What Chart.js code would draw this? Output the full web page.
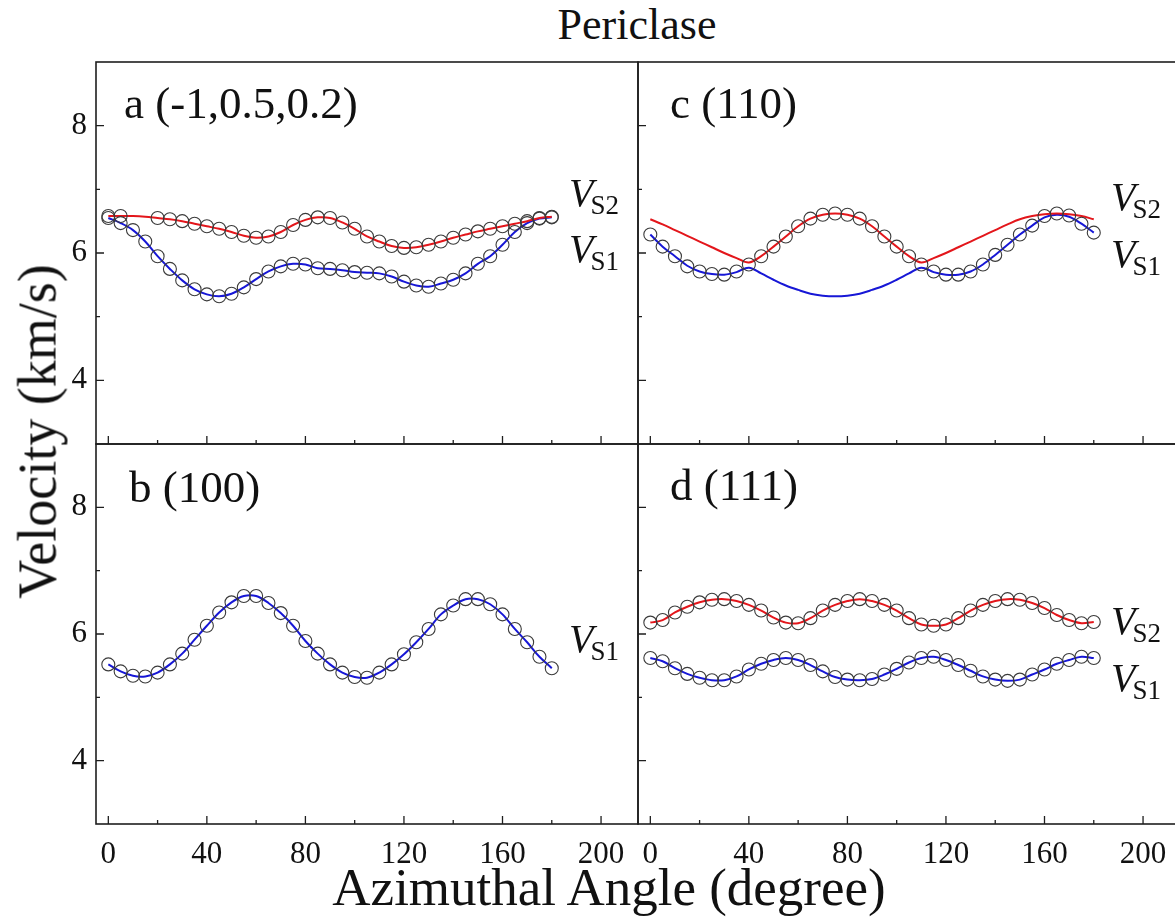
<!DOCTYPE html>
<html>
<head>
<meta charset="utf-8">
<script src="https://cdn.jsdelivr.net/npm/chart.js@4.4.0/dist/chart.umd.min.js"></script>
<style>
  html, body { margin: 0; padding: 0; background: #fff; overflow: hidden; }
  #wrap { position: relative; width: 1175px; height: 919px; overflow: hidden; background: #fff;
          font-family: "Liberation Serif", "Times New Roman", serif; color: #111; }
  canvas { position: absolute; }
  .txt { position: absolute; white-space: nowrap; text-align: center; }
  #title { left: 437px; top: 3px; width: 400px; font-size: 44px; line-height: 44px; }
  #ytitle { left: -212px; top: 404px; width: 500px; height: 55px; font-size: 54px; line-height: 55px;
            transform: rotate(-90deg); }
  #xtitle { left: 259px; top: 861px; width: 700px; font-size: 53px; line-height: 53px; }
</style>
</head>
<body>
<div id="wrap">
  <canvas id="pa" width="642" height="390" style="left:0px;top:58px"></canvas>
  <canvas id="pb" width="642" height="479" style="left:0px;top:440px"></canvas>
  <canvas id="pc" width="550" height="390" style="left:634px;top:58px"></canvas>
  <canvas id="pd" width="550" height="479" style="left:634px;top:440px"></canvas>
  <div class="txt" id="title">Periclase</div>
  <div class="txt" id="ytitle">Velocity (km/s)</div>
  <div class="txt" id="xtitle">Azimuthal Angle (degree)</div>
</div>
<script>
// azimuthal angles (degree)
const angles = [0, 5, 10, 15, 20, 25, 30, 35, 40, 45, 50, 55, 60, 65, 70, 75, 80, 85, 90,
  95, 100, 105, 110, 115, 120, 125, 130, 135, 140, 145, 150, 155, 160, 165, 170, 175, 180];

// a (-1,0.5,0.2)
const aVs2 = [6.58, 6.58, 6.58, 6.57, 6.55, 6.53, 6.50, 6.46, 6.42, 6.38, 6.33, 6.27, 6.24, 6.26, 6.33, 6.44, 6.52, 6.56, 6.55,
  6.48, 6.38, 6.26, 6.18, 6.11, 6.08, 6.09, 6.13, 6.18, 6.24, 6.29, 6.34, 6.38, 6.42, 6.46, 6.50, 6.55, 6.57];
const aVs1 = [6.55, 6.47, 6.36, 6.18, 5.95, 5.75, 5.57, 5.43, 5.35, 5.32, 5.36, 5.46, 5.59, 5.71, 5.79, 5.83, 5.82, 5.76, 5.75,
  5.73, 5.70, 5.69, 5.68, 5.63, 5.55, 5.49, 5.47, 5.52, 5.58, 5.68, 5.83, 5.95, 6.13, 6.33, 6.47, 6.54, 6.56];
const aDots2 = [6.58, 6.58, null, null, 6.55, 6.53, 6.50, 6.46, 6.42, 6.38, 6.33, 6.27, 6.24, 6.26, 6.33, 6.44, 6.52, 6.56, 6.55,
  6.48, 6.38, 6.26, 6.18, 6.11, 6.08, 6.09, 6.13, 6.18, 6.24, 6.29, 6.34, 6.38, 6.42, 6.46, 6.50, 6.55, 6.57];

// b (100)
const bVs1 = [5.52, 5.41, 5.34, 5.33, 5.39, 5.52, 5.69, 5.91, 6.13, 6.34, 6.50, 6.60, 6.60, 6.49, 6.33, 6.13, 5.89, 5.69, 5.52,
  5.39, 5.32, 5.31, 5.39, 5.52, 5.68, 5.87, 6.08, 6.31, 6.45, 6.55, 6.55, 6.47, 6.31, 6.08, 5.87, 5.64, 5.46];

// c (110)
const cVs2 = [6.53, 6.45, 6.36, 6.27, 6.18, 6.09, 6.00, 5.92, 5.85, 5.95, 6.10, 6.26, 6.42, 6.54, 6.60, 6.62, 6.60, 6.54, 6.42,
  6.26, 6.10, 5.95, 5.85, 5.92, 6.00, 6.09, 6.18, 6.27, 6.36, 6.45, 6.53, 6.58, 6.61, 6.62, 6.61, 6.58, 6.53];
const cVs1 = [6.29, 6.10, 5.95, 5.80, 5.71, 5.67, 5.66, 5.70, 5.77, 5.68, 5.58, 5.49, 5.42, 5.36, 5.33, 5.32, 5.33, 5.36, 5.42,
  5.49, 5.58, 5.68, 5.77, 5.70, 5.66, 5.66, 5.71, 5.82, 5.97, 6.13, 6.29, 6.43, 6.56, 6.60, 6.57, 6.46, 6.32];
const cDots = [6.29, 6.10, 5.95, 5.79, 5.71, 5.67, 5.66, 5.71, 5.82, 5.95, 6.10, 6.26, 6.42, 6.54, 6.60, 6.62, 6.60, 6.54, 6.42,
  6.26, 6.10, 5.95, 5.82, 5.71, 5.66, 5.66, 5.71, 5.82, 5.97, 6.13, 6.29, 6.43, 6.58, 6.62, 6.59, 6.46, 6.32];

// d (111)
const dVs2 = [6.18, 6.22, 6.34, 6.43, 6.50, 6.54, 6.55, 6.52, 6.46, 6.37, 6.26, 6.18, 6.17, 6.25, 6.37, 6.46, 6.52, 6.55, 6.52,
  6.46, 6.37, 6.25, 6.15, 6.13, 6.15, 6.25, 6.37, 6.46, 6.52, 6.55, 6.54, 6.49, 6.41, 6.30, 6.22, 6.17, 6.19];
const dVs1 = [5.62, 5.57, 5.46, 5.37, 5.31, 5.27, 5.27, 5.33, 5.44, 5.53, 5.59, 5.62, 5.59, 5.51, 5.41, 5.32, 5.28, 5.27, 5.29,
  5.36, 5.45, 5.55, 5.62, 5.64, 5.59, 5.51, 5.42, 5.33, 5.28, 5.26, 5.28, 5.36, 5.44, 5.53, 5.59, 5.64, 5.62];

// tick marks
const xMajor = [0, 40, 80, 120, 160, 200];
const xMinor = [20, 60, 100, 140, 180];
const yMajor = [4, 6, 8];
const yMinor = [5, 7];

const RED = '#e3161b';
const BLUE = '#1717d6';
const DOT = '#3a3a3a';
const SERIF = '"Liberation Serif", "Times New Roman", serif';

function pts(vals) {
  return angles.map((a, i) => ({ x: a, y: vals[i] }));
}

function lineSet(vals, color) {
  return { data: pts(vals), borderColor: color, borderWidth: 2, pointRadius: 0,
           tension: 0.35, fill: false, order: 2 };
}

function dotSet(vals) {
  return { data: pts(vals), showLine: false, pointRadius: 6.5, pointBorderWidth: 1.1,
           pointBorderColor: DOT, pointBackgroundColor: 'rgba(0,0,0,0)', order: 1 };
}

// frame, inward ticks, panel tag and V labels
const panelDecor = {
  id: 'panelDecor',
  afterDatasetsDraw(chart, args, opts) {
    const { ctx, chartArea: ca } = chart;
    const x = chart.scales.x, y = chart.scales.y;
    ctx.save();
    ctx.strokeStyle = '#1e1e1e';
    ctx.lineWidth = 1.6;
    ctx.strokeRect(ca.left, ca.top, ca.right - ca.left, ca.bottom - ca.top);
    ctx.lineWidth = 1.3;
    ctx.beginPath();
    xMajor.forEach(v => { const p = x.getPixelForValue(v); ctx.moveTo(p, ca.bottom); ctx.lineTo(p, ca.bottom - 8); });
    xMinor.forEach(v => { const p = x.getPixelForValue(v); ctx.moveTo(p, ca.bottom); ctx.lineTo(p, ca.bottom - 4); });
    yMajor.forEach(v => { const p = y.getPixelForValue(v); ctx.moveTo(ca.left, p); ctx.lineTo(ca.left + 8, p); });
    yMinor.forEach(v => { const p = y.getPixelForValue(v); ctx.moveTo(ca.left, p); ctx.lineTo(ca.left + 4, p); });
    ctx.stroke();

    ctx.fillStyle = '#111';
    ctx.textBaseline = 'alphabetic';
    ctx.textAlign = 'left';
    ctx.font = '45px ' + SERIF;
    ctx.fillText(opts.tag, ca.left + opts.tagDx, ca.top + opts.tagDy);

    opts.names.forEach(n => {
      const px = x.getPixelForValue(n.x), py = y.getPixelForValue(n.y);
      ctx.font = 'italic 40px ' + SERIF;
      ctx.fillText('V', px, py);
      const w = ctx.measureText('V').width;
      ctx.font = '27px ' + SERIF;
      ctx.fillText(n.sub, px + w - 3, py + 8);
    });
    ctx.restore();
  }
};

function makePanel(id, datasets, cfg) {
  const tickFont = { family: SERIF, size: 31 };
  new Chart(document.getElementById(id), {
    type: 'line',
    data: { datasets: datasets },
    options: {
      responsive: false,
      animation: false,
      devicePixelRatio: 1,
      layout: { autoPadding: false, padding: cfg.padding },
      plugins: { legend: { display: false }, tooltip: { enabled: false }, panelDecor: cfg.decor },
      scales: {
        x: {
          type: 'linear', min: -5, max: 215,
          display: cfg.showX,
          grid: { display: false, drawTicks: false },
          border: { display: false },
          ticks: { stepSize: 40, includeBounds: false, autoSkip: false, maxRotation: 0,
                   color: '#111', font: tickFont, padding: 12 },
          afterFit(s) {
            s.height = cfg.showX ? 95 : 0;
            s.paddingLeft = 0; s.paddingRight = 0; s.paddingTop = 0; s.paddingBottom = 0;
          }
        },
        y: {
          type: 'linear', min: 3, max: 9,
          display: cfg.showY,
          grid: { display: false, drawTicks: false },
          border: { display: false },
          ticks: { stepSize: 1, color: '#111', font: tickFont, padding: 9,
                   callback: v => (v % 2 === 0 && v >= 4 && v <= 8) ? String(v) : '' },
          afterFit(s) {
            s.width = cfg.showY ? 96 : 0;
            s.paddingLeft = 0; s.paddingRight = 0; s.paddingTop = 0; s.paddingBottom = 0;
          }
        }
      }
    },
    plugins: [panelDecor]
  });
}

makePanel('pa', [lineSet(aVs2, RED), lineSet(aVs1, BLUE), dotSet(aDots2), dotSet(aVs1)], {
  showX: false, showY: true, padding: { top: 4, right: 4, bottom: 4, left: 0 },
  decor: { tag: 'a (-1,0.5,0.2)', tagDx: 28, tagDy: 56,
           names: [{ x: 187, y: 6.74, sub: 'S2' }, { x: 187, y: 5.86, sub: 'S1' }] }
});

makePanel('pb', [lineSet(bVs1, BLUE), dotSet(bVs1)], {
  showX: true, showY: true, padding: { top: 4, right: 4, bottom: 0, left: 0 },
  decor: { tag: 'b (100)', tagDx: 33, tagDy: 58,
           names: [{ x: 187, y: 5.72, sub: 'S1' }] }
});

makePanel('pc', [lineSet(cVs2, RED), lineSet(cVs1, BLUE), dotSet(cDots)], {
  showX: false, showY: false, padding: { top: 4, right: 4, bottom: 4, left: 4 },
  decor: { tag: 'c (110)', tagDx: 32, tagDy: 56,
           names: [{ x: 187, y: 6.68, sub: 'S2' }, { x: 187, y: 5.78, sub: 'S1' }] }
});

makePanel('pd', [lineSet(dVs2, RED), lineSet(dVs1, BLUE), dotSet(dVs2), dotSet(dVs1)], {
  showX: true, showY: false, padding: { top: 4, right: 4, bottom: 0, left: 4 },
  decor: { tag: 'd (111)', tagDx: 32, tagDy: 56,
           names: [{ x: 187, y: 6.0, sub: 'S2' }, { x: 187, y: 5.1, sub: 'S1' }] }
});
</script>
</body>
</html>
